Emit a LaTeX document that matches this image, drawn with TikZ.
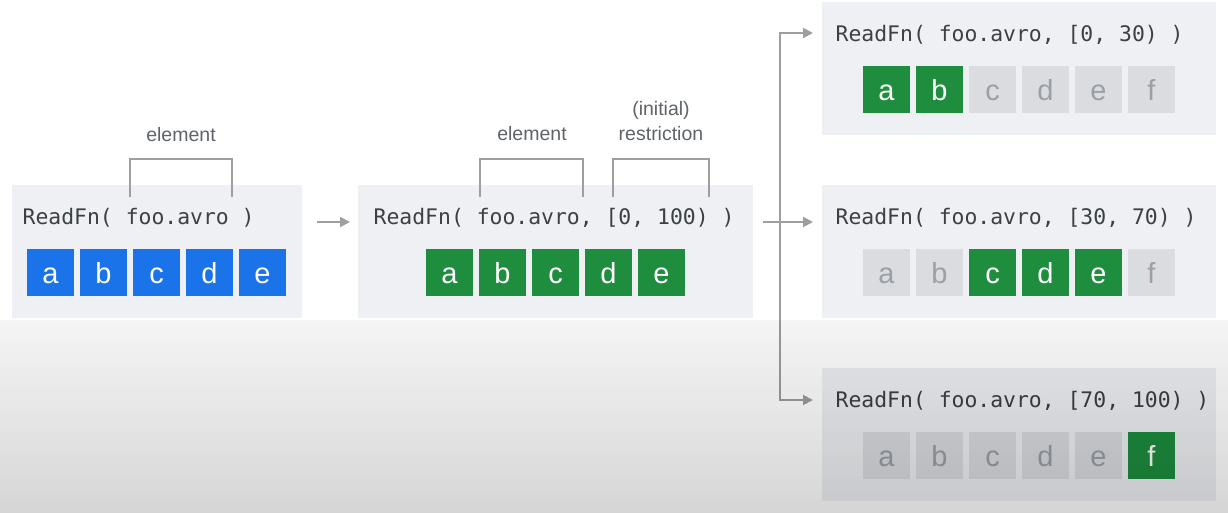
\documentclass[tikz,border=0pt]{standalone}
\usepackage{fontspec}
\setmainfont{Liberation Sans}
\setmonofont{DejaVu Sans Mono}
\usepackage{xcolor}
\definecolor{panelgray}{RGB}{238,240,243}
\definecolor{cellblue}{RGB}{26,115,232}
\definecolor{cellgreen}{RGB}{30,142,62}
\definecolor{cellgray}{RGB}{218,220,224}
\definecolor{lettergray}{RGB}{154,160,166}
\definecolor{codegray}{RGB}{60,64,67}
\definecolor{notegray}{RGB}{95,99,104}
\definecolor{linegray}{RGB}{158,158,158}
\usepackage{tikz}
\usetikzlibrary{arrows.meta}
\usetikzlibrary{fadings}
\newcommand{\sizecell}{47pt}
\newcommand{\stepcell}{53}
\tikzset{
    panel/.style={anchor=north west, rectangle, fill=panelgray, inner sep=0pt, minimum height=133pt},
    code/.style={anchor=base west, inner sep=0pt, text=codegray, font=\ttfamily\fontsize{21.4}{24}\selectfont},
    note/.style={anchor=base, inner sep=0pt, text=notegray, font=\fontsize{19.5}{25}\selectfont, align=center},
    common/.style={rectangle, inner sep=0pt, minimum size=\sizecell, text height=22pt, text depth=0pt, font=\fontsize{29}{30}\selectfont},
    readcell/.style={common, fill=cellblue, text=white},
    owncell/.style={common, fill=cellgreen, text=white},
    othercell/.style={common, fill=cellgray, text=lettergray},
    bracket/.style={draw=linegray, line width=1.6pt},
    flow/.style={draw=linegray, line width=2pt, -{Triangle[length=10pt, width=10pt]}}
}

\begin{document}
\begin{tikzpicture}[x=1pt, y=-1pt]
    \useasboundingbox (0,0) rectangle (1228,513);

    \node[panel, minimum width=290pt] (p1) at (12,185) {};
    \node[panel, minimum width=395pt] (p2) at (358,185) {};
    \node[panel, minimum width=394pt] (p3) at (822,2) {};
    \node[panel, minimum width=394pt] (p4) at (822,185) {};
    \node[panel, minimum width=394pt] (p5) at (822,368) {};

    % whole element
    \node[code] (p1-code) at (22.5,224.5) {ReadFn( foo.avro )};
    \path
        (50.5,272.5) node[readcell] (p1-a) {a}
        ++(0:\stepcell) node[readcell] (p1-b) {b}
        ++(0:\stepcell) node[readcell] (p1-c) {c}
        ++(0:\stepcell) node[readcell] (p1-d) {d}
        ++(0:\stepcell) node[readcell] (p1-e) {e};

    \node[note] (p1-el) at (181,142) {element};
    \coordinate (p1-el-l) at (130,197);
    \coordinate (p1-el-r) at (232,197);
    \draw[bracket] (p1-el-l) -- ++(0,-38) -| (p1-el-r);

    % element with initial restriction
    \node[code] (p2-code) at (373.5,224.5) {ReadFn( foo.avro, [0, 100) )};
    \path
        (449.5,272.5) node[owncell] (p2-a) {a}
        ++(0:\stepcell) node[owncell] (p2-b) {b}
        ++(0:\stepcell) node[owncell] (p2-c) {c}
        ++(0:\stepcell) node[owncell] (p2-d) {d}
        ++(0:\stepcell) node[owncell] (p2-e) {e};

    \node[note] (p2-el) at (532,141) {element};
    \coordinate (p2-el-l) at (480,197);
    \coordinate (p2-el-r) at (583,197);
    \draw[bracket] (p2-el-l) -- ++(0,-38) -| (p2-el-r);

    \node[note, anchor=center] (p2-rs) at (661,121.5) {(initial)\\restriction};
    \coordinate (p2-rs-l) at (613,197);
    \coordinate (p2-rs-r) at (709,197);
    \draw[bracket] (p2-rs-l) -- ++(0,-38) -| (p2-rs-r);

    % split restrictions
    \node[code] (p3-code) at (835.5,41.5) {ReadFn( foo.avro, [0, 30) )};
    \path
        (886.5,89.5) node[owncell] (p3-a) {a}
        ++(0:\stepcell) node[owncell] (p3-b) {b}
        ++(0:\stepcell) node[othercell] (p3-c) {c}
        ++(0:\stepcell) node[othercell] (p3-d) {d}
        ++(0:\stepcell) node[othercell] (p3-e) {e}
        ++(0:\stepcell) node[othercell] (p3-f) {f};

    \node[code] (p4-code) at (835.5,224.5) {ReadFn( foo.avro, [30, 70) )};
    \path
        (886.5,272.5) node[othercell] (p4-a) {a}
        ++(0:\stepcell) node[othercell] (p4-b) {b}
        ++(0:\stepcell) node[owncell] (p4-c) {c}
        ++(0:\stepcell) node[owncell] (p4-d) {d}
        ++(0:\stepcell) node[owncell] (p4-e) {e}
        ++(0:\stepcell) node[othercell] (p4-f) {f};

    \node[code] (p5-code) at (835.5,407.5) {ReadFn( foo.avro, [70, 100) )};
    \path
        (886.5,455.5) node[othercell] (p5-a) {a}
        ++(0:\stepcell) node[othercell] (p5-b) {b}
        ++(0:\stepcell) node[othercell] (p5-c) {c}
        ++(0:\stepcell) node[othercell] (p5-d) {d}
        ++(0:\stepcell) node[othercell] (p5-e) {e}
        ++(0:\stepcell) node[owncell] (p5-f) {f};

    % arrows
    \coordinate (p1-out) at (317,222);
    \coordinate (p2-in) at (350,222);
    \coordinate (p2-out) at (763,222);
    \coordinate (split) at (780,222);
    \coordinate (p3-in) at (813,33);
    \coordinate (p4-in) at (813,222);
    \coordinate (p5-in) at (813,400);

    \draw[flow] (p1-out) -- (p2-in);
    \draw[flow] (p2-out) -- (p4-in);
    \draw[flow] (split) |- (p3-in);
    \draw[flow] (split) |- (p5-in);

    % darker lower part
    \fill[black, fill opacity=0.04] (0,320) rectangle (1228,513);
    \fill[black, fill opacity=0.13, path fading=north] (0,320) rectangle (1228,513);
\end{tikzpicture}
\end{document}
